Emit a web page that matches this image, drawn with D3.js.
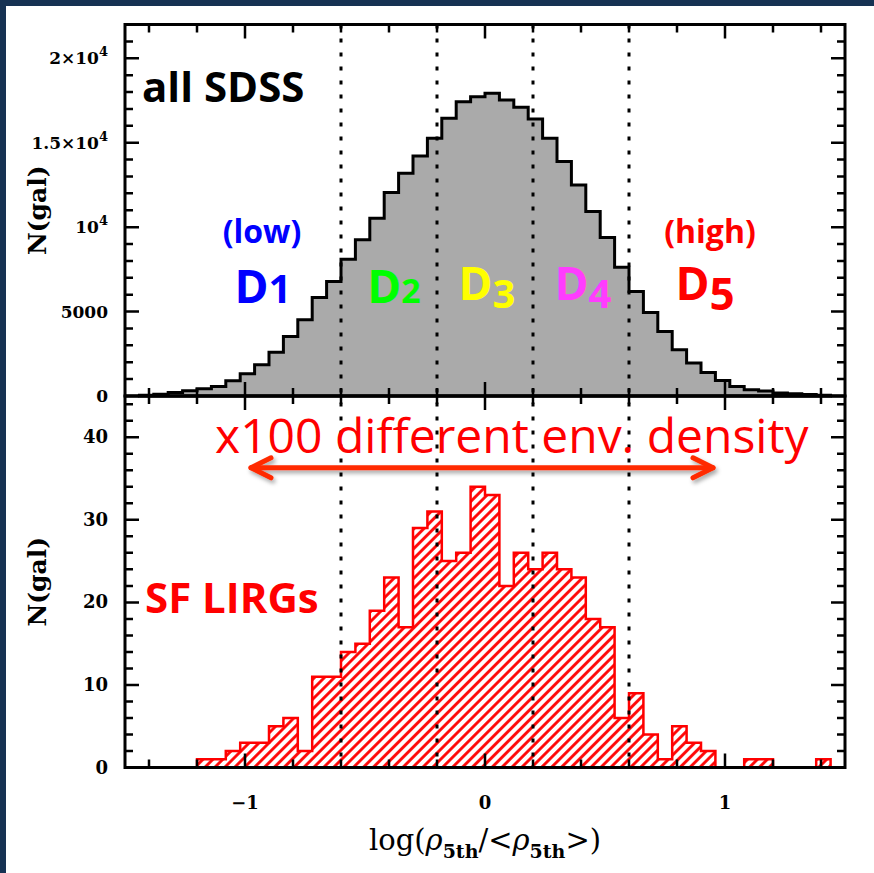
<!DOCTYPE html>
<html>
<head>
<meta charset="utf-8">
<script src="https://cdn.jsdelivr.net/npm/d3@7"></script>
<style>
  body { margin: 0; background: #163253; }
  svg { display: block; }
  .tick-label { font-family: "DejaVu Serif", serif; font-weight: bold; fill: #000; }
  .ann { font-family: "Open Sans", sans-serif; }
</style>
</head>
<body>
<div id="graphic"></div>
<script>
// histogram bins (log density), width 0.06
const binWidth = 0.06;
const sdssStart = -1.44;
const sdssCounts = [50, 100, 207, 308, 426, 562, 900, 1314, 1847, 2598, 3522, 4510, 5830, 6778,
  8104, 9246, 10530, 12047, 13194, 14218, 15266, 16450, 17432, 17728, 17929, 17533, 17100, 16408,
  15266, 13882, 12500, 10921, 9382, 7630, 6186, 4943, 3818, 2735, 1947, 1391, 917, 562, 367, 290,
  180, 130, 90, 50];
const lirgStart = -1.2;
const lirgCounts = [1, 1, 2, 3, 3, 5, 6, 2, 11, 11, 14, 15, 19, 23, 17, 29, 31, 25, 26, 34, 33, 22,
  26, 24, 26, 24, 23, 18, 17, 6, 9, 4, 1, 5, 3, 2, 0, 0, 1, 1, 0, 0, 0, 1];

const densityCuts = [-0.6, -0.2, 0.2, 0.6];
const xTicksMajor = [-1, 0, 1];
const xTickLabels = ['\u22121', '0', '1'];
const yTopTicks = [0, 5000, 10000, 15000, 20000];
const yTopLabels = [['0'], ['5000'], ['10', '4'], ['1.5\u00d710', '4'], ['2\u00d710', '4']];
const yBotTicks = [0, 10, 20, 30, 40];

const width = 874, height = 873;
const svg = d3.select('#graphic').append('svg').attr('width', width).attr('height', height);

svg.append('rect').attr('x', 6).attr('y', 6).attr('width', width - 6).attr('height', height - 6).attr('fill', '#fff');

const x = d3.scaleLinear().domain([-1.5, 1.5]).range([125, 845]);
const yTop = d3.scaleLinear().domain([0, 22000]).range([396, 24.5]);
const yBot = d3.scaleLinear().domain([0, 45]).range([767.5, 396]);

const defs = svg.append('defs');
const pat = defs.append('pattern').attr('id', 'hatch').attr('patternUnits', 'userSpaceOnUse')
  .attr('width', 7).attr('height', 7).attr('patternTransform', 'rotate(45)');
pat.append('line').attr('x1', 1.5).attr('y1', 0).attr('x2', 1.5).attr('y2', 7)
  .attr('stroke', '#ff0000').attr('stroke-width', 2.8);
const shadow = defs.append('filter').attr('id', 'shadow').attr('x', '-10%').attr('y', '-50%').attr('width', '120%').attr('height', '200%');
shadow.append('feDropShadow').attr('dx', 2).attr('dy', 3).attr('stdDeviation', 2).attr('flood-color', '#000').attr('flood-opacity', 0.35);

function steps(start, counts) {
  const pts = counts.map((c, i) => ({ x0: start + i * binWidth, v: c }));
  pts.push({ x0: start + counts.length * binWidth, v: counts[counts.length - 1] });
  return pts;
}

// upper histogram
const areaTop = d3.area().curve(d3.curveStepAfter).x(d => x(d.x0)).y0(yTop(0)).y1(d => yTop(d.v));
svg.append('path').datum(steps(sdssStart, sdssCounts)).attr('d', areaTop)
  .attr('fill', '#aaaaaa').attr('stroke', '#000').attr('stroke-width', 3).attr('stroke-linejoin', 'miter');

// lower histogram
const areaBot = d3.area().curve(d3.curveStepAfter).x(d => x(d.x0)).y0(yBot(0)).y1(d => yBot(d.v));
svg.append('path').datum(steps(lirgStart, lirgCounts)).attr('d', areaBot)
  .attr('fill', 'url(#hatch)').attr('stroke', '#ff0000').attr('stroke-width', 2.5);

// density cuts
svg.append('g').selectAll('line').data(densityCuts).join('line')
  .attr('x1', d => x(d)).attr('x2', d => x(d))
  .attr('y1', yTop.range()[1]).attr('y2', yBot.range()[0])
  .attr('stroke', '#000').attr('stroke-width', 3).attr('stroke-dasharray', '4,10');

// frames and ticks
function panel(y, yMajor, yMinorStep) {
  const [y0, y1] = y.range();
  const g = svg.append('g');
  const xMinor = d3.range(-1.4, 1.41, 0.2).map(v => Math.round(v * 10) / 10).filter(v => !xTicksMajor.includes(v));
  const yMinor = d3.range(0, y.domain()[1] + 1e-9, yMinorStep).filter(v => !yMajor.includes(v));
  const ticks = [];
  xTicksMajor.forEach(v => ticks.push({ x: v, len: 14 }));
  xMinor.forEach(v => ticks.push({ x: v, len: 8 }));
  g.selectAll('.xt').data(ticks).join('path').attr('class', 'xt')
    .attr('d', d => `M${x(d.x)},${y0}v${-d.len}M${x(d.x)},${y1}v${d.len}`)
    .attr('stroke', '#000').attr('stroke-width', 2.5);
  const yt = [];
  yMajor.forEach(v => yt.push({ y: v, len: 14 }));
  yMinor.forEach(v => yt.push({ y: v, len: 8 }));
  g.selectAll('.yt').data(yt).join('path').attr('class', 'yt')
    .attr('d', d => `M${x.range()[0]},${y(d.y)}h${d.len}M${x.range()[1]},${y(d.y)}h${-d.len}`)
    .attr('stroke', '#000').attr('stroke-width', 2.5);
  g.append('rect').attr('x', x.range()[0]).attr('y', y1).attr('width', x.range()[1] - x.range()[0])
    .attr('height', y0 - y1).attr('fill', 'none').attr('stroke', '#000').attr('stroke-width', 3);
  return g;
}
panel(yTop, yTopTicks, 1000);
panel(yBot, yBotTicks, 2);

// y tick labels
const topLab = svg.append('g').selectAll('text').data(yTopTicks).join('text')
  .attr('class', 'tick-label').style('font-size', '17px')
  .attr('x', 108).attr('y', d => yTop(d) + 6).attr('text-anchor', 'end');
topLab.each(function (d, i) {
  const t = d3.select(this);
  const parts = yTopLabels[i];
  t.append('tspan').text(parts[0]);
  if (parts[1]) t.append('tspan').attr('dy', -8).style('font-size', '13px').text(parts[1]);
});
svg.append('g').selectAll('text').data(yBotTicks).join('text')
  .attr('class', 'tick-label').style('font-size', '18px')
  .attr('x', 108).attr('y', d => yBot(d) + 6).attr('text-anchor', 'end')
  .text(d => d);

// x tick labels
svg.append('g').selectAll('text').data(xTicksMajor).join('text')
  .attr('class', 'tick-label').style('font-size', '18px')
  .attr('x', d => x(d)).attr('y', 809).attr('text-anchor', 'middle')
  .text((d, i) => xTickLabels[i]);

// axis titles
[yTop, yBot].forEach(y => {
  const cy = (y.range()[0] + y.range()[1]) / 2;
  svg.append('text').attr('class', 'tick-label').style('font-size', '25px')
    .attr('transform', `translate(46,${cy}) rotate(-90)`).attr('text-anchor', 'middle').text('N(gal)');
});
const xt = svg.append('text').attr('class', 'tick-label').style('font-size', '29px').style('font-weight', 'normal')
  .attr('x', x(0)).attr('y', 850).attr('text-anchor', 'middle');
xt.append('tspan').text('log(');
xt.append('tspan').style('font-style', 'italic').text('\u03c1');
xt.append('tspan').style('font-size', '19px').style('font-weight', 'bold').attr('dy', 8).text('5th');
xt.append('tspan').attr('dy', -8).text('/<');
xt.append('tspan').style('font-style', 'italic').text('\u03c1');
xt.append('tspan').style('font-size', '19px').style('font-weight', 'bold').attr('dy', 8).text('5th');
xt.append('tspan').attr('dy', -8).text('>)');

// annotations
const ann = svg.append('g').attr('class', 'ann');
ann.append('text').attr('x', 142).attr('y', 102).style('font-size', '42px').style('font-weight', 'bold').text('all SDSS');
ann.append('text').attr('x', 262).attr('y', 243).style('font-size', '32px').style('font-weight', 'bold')
  .attr('fill', '#0000ff').attr('text-anchor', 'middle').text('(low)');
ann.append('text').attr('x', 710).attr('y', 243).style('font-size', '32px').style('font-weight', 'bold')
  .attr('fill', '#ff0000').attr('text-anchor', 'middle').text('(high)');

const dLabels = [
  { name: 'D', num: '1', cx: 263, col: '#0000ff', fs: 40, dy: 0 },
  { name: 'D', num: '2', cx: 394, col: '#00ff00', fs: 34, dy: 0 },
  { name: 'D', num: '3', cx: 487, col: '#ffff00', fs: 40, dy: 8 },
  { name: 'D', num: '4', cx: 583, col: '#ff3cff', fs: 40, dy: 8 },
  { name: 'D', num: '5', cx: 705, col: '#ff0000', fs: 44, dy: 10 }
];
dLabels.forEach(d => {
  const t = ann.append('text').attr('x', d.cx).attr('y', d.dy ? 300 : 303).attr('text-anchor', 'middle')
    .style('font-size', '46px').style('font-weight', 'bold').attr('fill', d.col);
  t.append('tspan').text(d.name);
  t.append('tspan').style('font-size', d.fs + 'px').attr('dy', d.dy).text(d.num);
});

ann.append('text').attr('x', 215).attr('y', 453).style('font-size', '48px').attr('fill', '#ff0000')
  .text('x100 different env. density');
ann.append('text').attr('x', 145).attr('y', 613).style('font-size', '42px').style('font-weight', 'bold')
  .attr('fill', '#ff0000').text('SF LIRGs');

// double arrow
const ay = yBot(36.3);
const arrow = ann.append('g').attr('filter', 'url(#shadow)').attr('stroke', '#ff2a00').attr('stroke-width', 5)
  .attr('fill', 'none').attr('stroke-linecap', 'round').attr('stroke-linejoin', 'round');
arrow.append('path').attr('d', `M${x(-0.975)},${ay}H${x(0.95)}`);
arrow.append('path').attr('d', `M${x(-0.975) + 20},${ay - 10}L${x(-0.975)},${ay}L${x(-0.975) + 20},${ay + 10}`);
arrow.append('path').attr('d', `M${x(0.95) - 20},${ay - 10}L${x(0.95)},${ay}L${x(0.95) - 20},${ay + 10}`);
</script>
</body>
</html>
